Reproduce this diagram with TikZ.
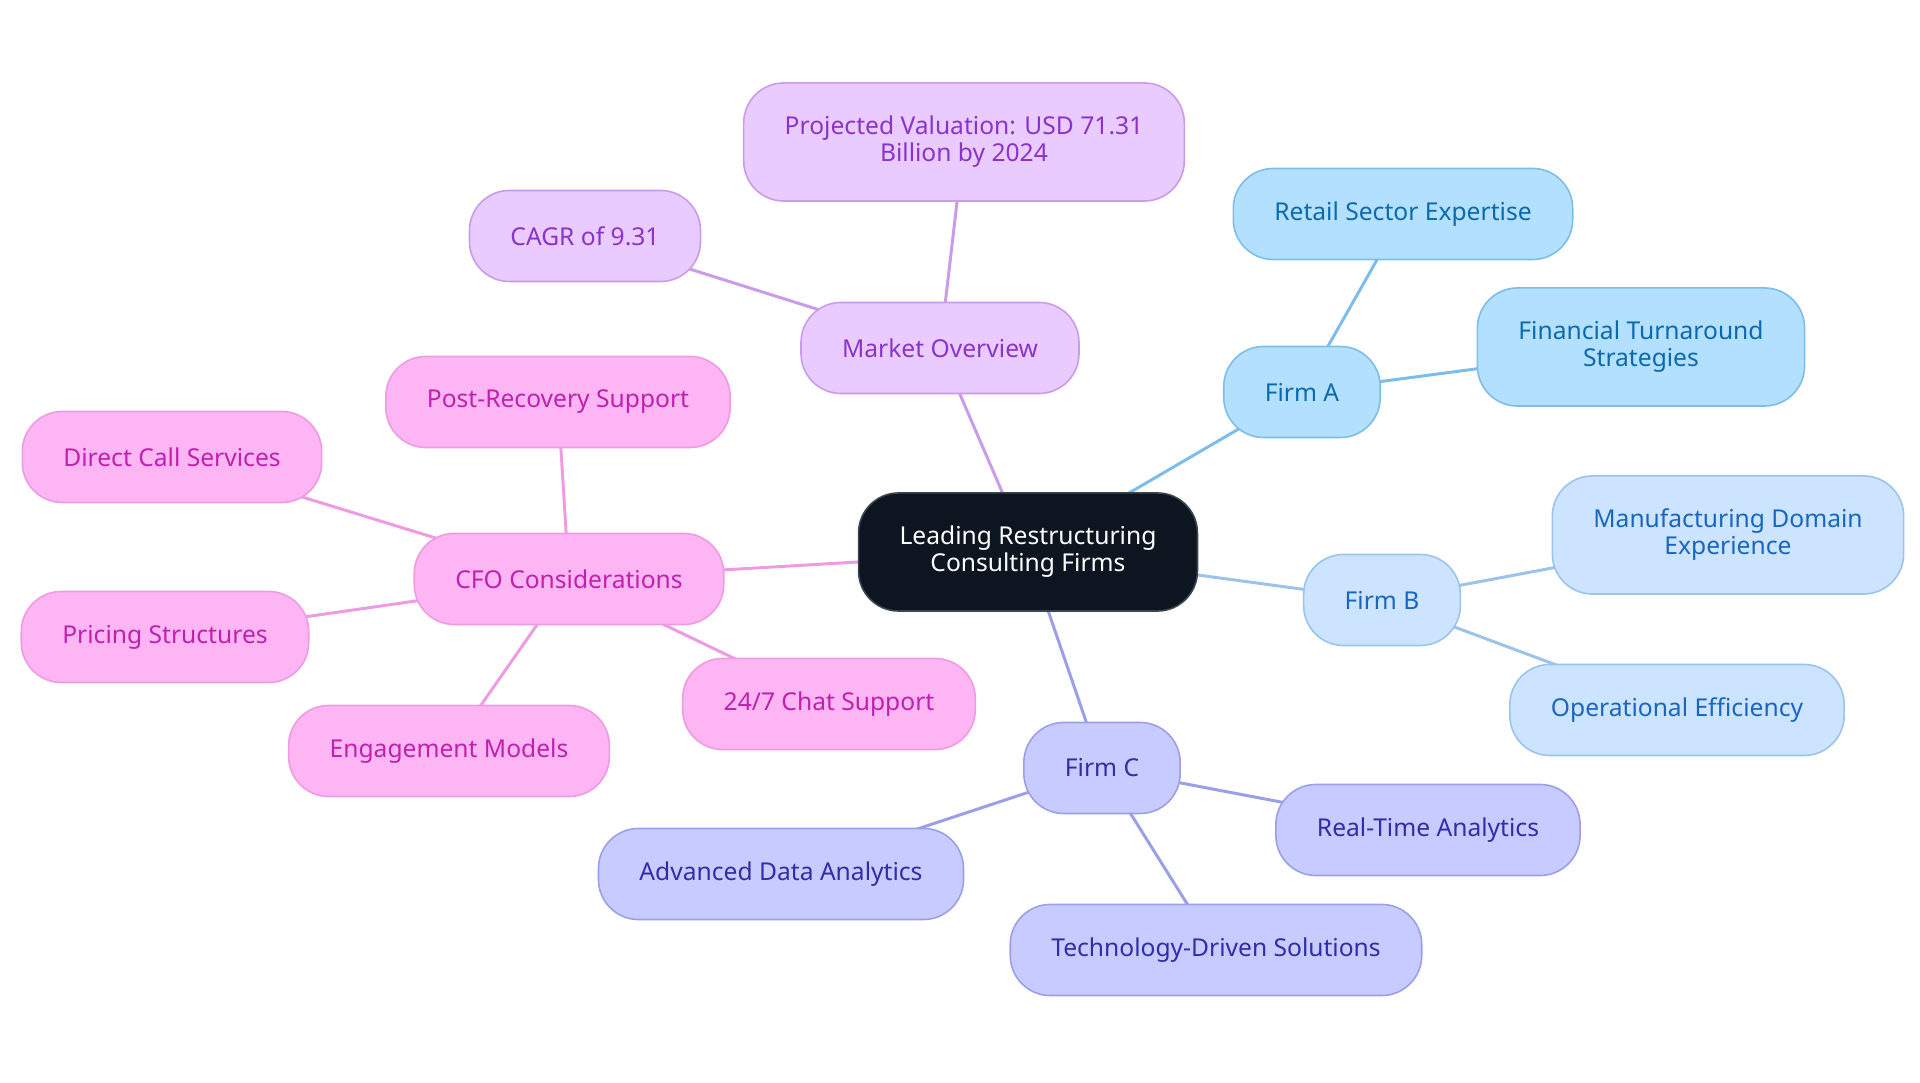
\documentclass[tikz,border=0pt]{standalone}
\usepackage{fontspec}
\setmainfont{Noto Sans}
\usetikzlibrary{backgrounds}

\definecolor{rootfill}{HTML}{0D1620}
\definecolor{mktfill}{HTML}{E9CBFF}
\definecolor{mktdraw}{HTML}{C99BEA}
\definecolor{mkttext}{HTML}{8A33C9}
\definecolor{afill}{HTML}{B3E0FF}
\definecolor{adraw}{HTML}{7CBDE9}
\definecolor{atext}{HTML}{0B6AAE}
\definecolor{bfill}{HTML}{CCE4FF}
\definecolor{bdraw}{HTML}{9BC3EC}
\definecolor{btext}{HTML}{1866BE}
\definecolor{cfill}{HTML}{C8CBFF}
\definecolor{cdraw}{HTML}{9A9FE8}
\definecolor{ctext}{HTML}{2F2DA8}
\definecolor{cfofill}{HTML}{FDB5F4}
\definecolor{cfodraw}{HTML}{EF9BE2}
\definecolor{cfotext}{HTML}{C020AE}

\begin{document}
\begin{tikzpicture}[
    x=0.01cm, y=-0.01cm,
    box/.style={rounded corners=0.4cm, line width=0.45pt, align=center,
        minimum height=0.91cm, inner xsep=0.41cm,
        font=\fontsize{7}{7.7}\selectfont},
    root/.style={box, fill=rootfill, draw=rootfill!80!white, text=white, minimum height=1.18cm},
    mkt/.style={box, fill=mktfill, draw=mktdraw, text=mkttext},
    firma/.style={box, fill=afill, draw=adraw, text=atext},
    firmb/.style={box, fill=bfill, draw=bdraw, text=btext},
    firmc/.style={box, fill=cfill, draw=cdraw, text=ctext},
    cfo/.style={box, fill=cfofill, draw=cfodraw, text=cfotext},
    link/.style={line width=0.85pt},
]
    \useasboundingbox (0,0) rectangle (1920,1083);

    % Centre
    \node[root] (root) at (1028,552) {Leading Restructuring\\Consulting Firms};

    % Market overview branch
    \node[mkt] (mkt) at (940,348) {Market Overview};
    \node[mkt, minimum height=1.18cm] (proj) at (964,142) {Projected Valuation: USD 71.31\\Billion by 2024};
    \node[mkt] (cagr) at (585,236) {CAGR of 9.31};

    % Firm A branch
    \node[firma] (firma) at (1302,392) {Firm A};
    \node[firma] (retail) at (1403,214) {Retail Sector Expertise};
    \node[firma, minimum height=1.18cm] (turn) at (1641,347) {Financial Turnaround\\Strategies};

    % Firm B branch
    \node[firmb] (firmb) at (1382,600) {Firm B};
    \node[firmb, minimum height=1.18cm] (manu) at (1728,535) {Manufacturing Domain\\Experience};
    \node[firmb] (opeff) at (1677,710) {Operational Efficiency};

    % Firm C branch
    \node[firmc] (firmc) at (1102,768) {Firm C};
    \node[firmc] (realtime) at (1428,830) {Real-Time Analytics};
    \node[firmc] (advdata) at (781,874) {Advanced Data Analytics};
    \node[firmc] (techsol) at (1216,950) {Technology-Driven Solutions};

    % CFO branch
    \node[cfo] (cfo) at (569,579) {CFO Considerations};
    \node[cfo] (postrec) at (558,402) {Post-Recovery Support};
    \node[cfo] (direct) at (172,457) {Direct Call Services};
    \node[cfo] (pricing) at (165,637) {Pricing Structures};
    \node[cfo] (engage) at (449,751) {Engagement Models};
    \node[cfo] (chat) at (829,704) {24/7 Chat Support};

    % Links
    \begin{scope}[on background layer]
        \draw[link, mktdraw] (root.center) -- (mkt.center);
        \draw[link, mktdraw] (mkt.center) -- (proj.center);
        \draw[link, mktdraw] (mkt.center) -- (cagr.center);
        \draw[link, adraw] (root.center) -- (firma.center);
        \draw[link, adraw] (firma.center) -- (retail.center);
        \draw[link, adraw] (firma.center) -- (turn.center);
        \draw[link, bdraw] (root.center) -- (firmb.center);
        \draw[link, bdraw] (firmb.center) -- (manu.center);
        \draw[link, bdraw] (firmb.center) -- (opeff.center);
        \draw[link, cdraw] (root.center) -- (firmc.center);
        \draw[link, cdraw] (firmc.center) -- (realtime.center);
        \draw[link, cdraw] (firmc.center) -- (advdata.center);
        \draw[link, cdraw] (firmc.center) -- (techsol.center);
        \draw[link, cfodraw] (root.center) -- (cfo.center);
        \draw[link, cfodraw] (cfo.center) -- (postrec.center);
        \draw[link, cfodraw] (cfo.center) -- (direct.center);
        \draw[link, cfodraw] (cfo.center) -- (pricing.center);
        \draw[link, cfodraw] (cfo.center) -- (engage.center);
        \draw[link, cfodraw] (cfo.center) -- (chat.center);
    \end{scope}
\end{tikzpicture}
\end{document}
